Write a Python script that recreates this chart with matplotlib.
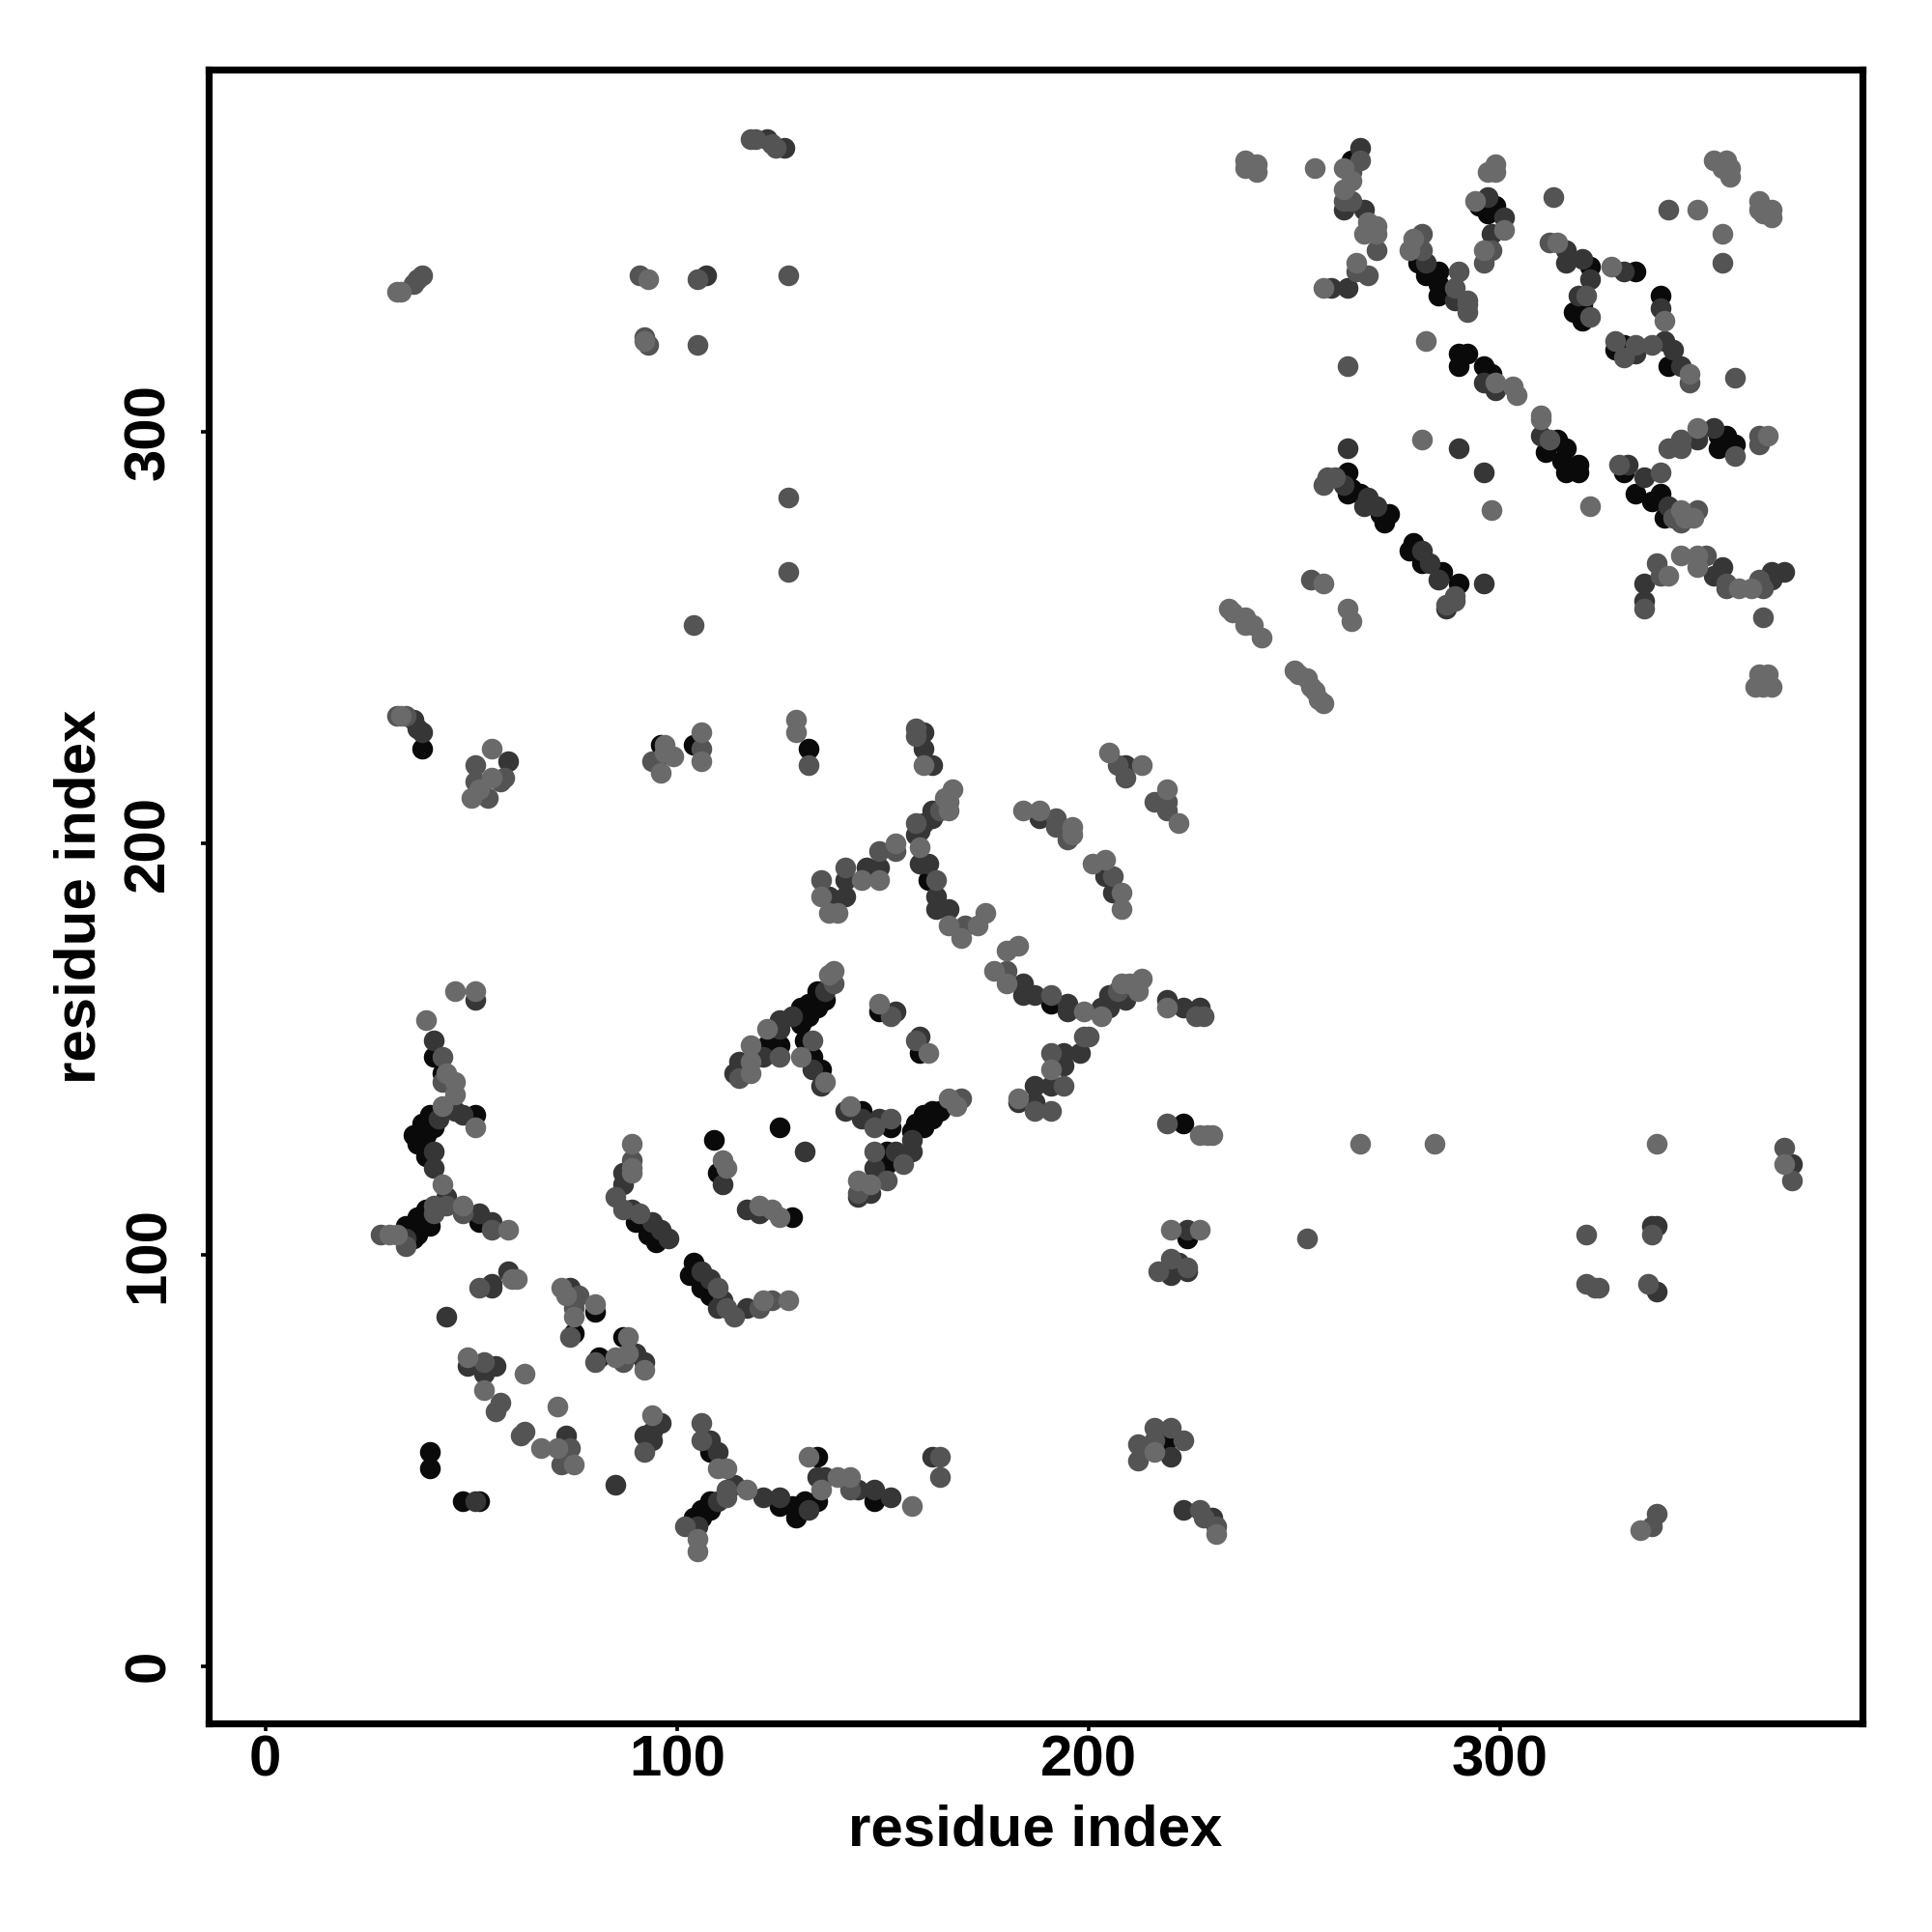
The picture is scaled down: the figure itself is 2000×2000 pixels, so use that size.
#!/usr/bin/env python3
"""Residue contact map, points grouped by grey level."""
import matplotlib
matplotlib.use("Agg")
import matplotlib.pyplot as plt

plt.rcParams["font.family"] = ["Liberation Sans", "DejaVu Sans"]

# (residue i, residue j), one list per grey level
black_pts = [
    (264, 366), (280, 341), (285, 339), (282, 338), (285, 336), (285, 333),
    (295, 355), (299, 355), (297, 353), (322, 340), (318, 329), (320, 327), (320, 331),
    (333, 339), (339, 333), (328, 320), (330, 321), (341, 316),
    (290, 319), (292, 319), (290, 316), (296, 316), (298, 314),
    (314, 298), (311, 295), (316, 296), (315, 293), (319, 292), (316, 290), (319, 290),
    (330, 290), (333, 285), (339, 285), (337, 283), (340, 279),
    (353, 299), (355, 299), (357, 297), (353, 296),
    (263, 290), (264, 286), (266, 285), (263, 285), (271, 280), (273, 280), (272, 278),
    (279, 273), (278, 271), (281, 268), (286, 266), (290, 263),
    (96, 224), (104, 224), (132, 223), (161, 191), (191, 161),
    (134, 164), (136, 162), (132, 161), (134, 160), (130, 160), (132, 158), (130, 156),
    (122, 151), (125, 151), (131, 152), (133, 148), (135, 145), (149, 159), (159, 149),
    (145, 135), (152, 131), (162, 135), (164, 135), (160, 134), (162, 133), (158, 132),
    (160, 131), (157, 130), (151, 125), (151, 122),
    (223, 132), (224, 104), (125, 131), (109, 128), (110, 120), (128, 109),
    (90, 108), (93, 105), (95, 103),
    (104, 98), (103, 95), (106, 92), (108, 90),
    (41, 148), (43, 144), (51, 134), (40, 134), (38, 132), (41, 131), (36, 129), (39, 129),
    (37, 127), (39, 124), (39, 111), (37, 109), (40, 107), (34, 107), (37, 105), (36, 104),
    (52, 108), (80, 86), (75, 81), (81, 75), (87, 80), (40, 52), (40, 48), (48, 40), (52, 40),
    (108, 52), (108, 40), (106, 38), (108, 38), (104, 36), (106, 36),
    (125, 39), (128, 39), (129, 36), (131, 40), (134, 40), (134, 51), (148, 40),
    (219, 55), (38, 223),
]
dark_pts = [
    (266, 369), (267, 354), (262, 354), (259, 335), (263, 335),
    (282, 341), (289, 332), (297, 357), (301, 352), (298, 348),
    (316, 344), (316, 341), (320, 342), (322, 337), (319, 333),
    (330, 339), (339, 330), (333, 319), (340, 322), (342, 320), (344, 316),
    (296, 312), (299, 310), (310, 299), (331, 292), (335, 289), (341, 282),
    (348, 298), (352, 301), (263, 296), (290, 296), (296, 290), (296, 263),
    (262, 287), (268, 284), (267, 282), (270, 282),
    (281, 271), (283, 268), (285, 264), (287, 257),
    (335, 263), (335, 259), (354, 267), (352, 265), (366, 266), (369, 266), (366, 264),
    (95, 220), (160, 227), (160, 223), (162, 219),
    (209, 219), (188, 206), (204, 192), (206, 188),
    (162, 208), (162, 206), (160, 205), (159, 203), (158, 202),
    (159, 195), (161, 195), (163, 187), (163, 184), (166, 184),
    (149, 194), (146, 194), (141, 191), (141, 187), (137, 187),
    (184, 166), (184, 163), (187, 163), (195, 161), (195, 159),
    (205, 161), (205, 163), (203, 160), (205, 160), (207, 163), (209, 162),
    (219, 162), (223, 160), (227, 160),
    (198, 149), (194, 149), (194, 146), (191, 141), (187, 141), (187, 137), (183, 137),
    (224, 106), (128, 158), (125, 157), (125, 155), (121, 148), (115, 147), (114, 144),
    (136, 164), (133, 145), (135, 141), (153, 159), (159, 153),
    (141, 135), (145, 133), (149, 133), (157, 128), (157, 125), (153, 125), (148, 121),
    (147, 115), (144, 114), (131, 125), (111, 117), (117, 111), (120, 110),
    (87, 120), (87, 117), (89, 111), (94, 108), (96, 106), (98, 104),
    (106, 96), (108, 94), (111, 89), (110, 87), (117, 87),
    (41, 152), (46, 135), (48, 134), (42, 133), (41, 125), (41, 121), (44, 114),
    (34, 104), (52, 110), (55, 108), (55, 93), (55, 92), (59, 96), (44, 85),
    (74, 92), (90, 76), (92, 74), (49, 73), (56, 73), (53, 71), (73, 56),
    (96, 59), (94, 57), (92, 56), (94, 55), (51, 40), (85, 44),
    (108, 55), (110, 52), (114, 44), (110, 40), (105, 34),
    (121, 41), (125, 41), (132, 38), (134, 46), (136, 46), (144, 43), (148, 43), (152, 41),
    (162, 51), (220, 51), (223, 38), (230, 36),
    (338, 91), (337, 107), (338, 107), (220, 95), (222, 98), (224, 96), (371, 122),
    (36, 230), (37, 228), (59, 220), (38, 227),
    (122, 371), (126, 369), (107, 338), (51, 162),
]
mid_pts = [
    (266, 366), (262, 356), (264, 356), (264, 363), (270, 344), (265, 339), (268, 338),
    (281, 348), (281, 344), (289, 335), (292, 332), (292, 329), (290, 339), (292, 331),
    (298, 344), (296, 341), (313, 357), (312, 346), (321, 333), (322, 328),
    (341, 354), (354, 341), (328, 322), (330, 318), (333, 321), (337, 321), (346, 312),
    (357, 313), (263, 316), (312, 298), (339, 290), (329, 292), (342, 279), (348, 281),
    (344, 278), (341, 296), (344, 298), (344, 296), (357, 294),
    (363, 299), (363, 297), (258, 289), (257, 287), (260, 289),
    (289, 260), (287, 258), (289, 259), (254, 264), (338, 268), (339, 265), (335, 257),
    (350, 270), (355, 263), (364, 262), (363, 264), (355, 262), (364, 255),
    (94, 220), (106, 223), (132, 219), (158, 228), (158, 226),
    (207, 219), (209, 216), (216, 210), (219, 208), (219, 210),
    (192, 206), (192, 204), (195, 201), (206, 192),
    (164, 208), (158, 205), (163, 191), (170, 180),
    (153, 198), (149, 198), (141, 194), (135, 191),
    (180, 169), (191, 163), (207, 164),
    (228, 158), (226, 158), (199, 153), (200, 153), (191, 149), (194, 141), (187, 135), (191, 135),
    (125, 148), (115, 143), (133, 152), (152, 158), (158, 152),
    (152, 133), (148, 131), (155, 122), (148, 125), (151, 118), (144, 115),
    (219, 132), (138, 166), (169, 138),
    (89, 123), (85, 114), (87, 111), (91, 110),
    (110, 92), (112, 87), (114, 85), (120, 87), (123, 89),
    (43, 148), (43, 142), (41, 112), (44, 112), (41, 110), (34, 102), (28, 105),
    (48, 110), (55, 106), (52, 92), (76, 90), (75, 87), (74, 80), (80, 74), (87, 74),
    (53, 74), (57, 64), (56, 62), (63, 57), (62, 56), (74, 53), (72, 49), (92, 52),
    (106, 59), (106, 55), (112, 43), (112, 41), (102, 34), (142, 43), (164, 51), (164, 46),
    (212, 54), (212, 50), (216, 58), (220, 58), (216, 55), (223, 55),
    (227, 38), (228, 36), (231, 34), (337, 34), (338, 37),
    (336, 93), (321, 105), (321, 93), (324, 92), (323, 92), (337, 105), (253, 104),
    (217, 96), (220, 99), (224, 97), (369, 126), (371, 118),
    (32, 231), (34, 231), (51, 219), (51, 215), (58, 216), (54, 211), (57, 215),
    (36, 336), (37, 337), (38, 338), (118, 371), (119, 371), (123, 370), (124, 369),
    (91, 338), (105, 337), (127, 338), (92, 323), (93, 321), (105, 321),
    (127, 284), (127, 266), (104, 253),
]
light_pts = [
    (238, 366), (238, 364), (241, 365), (241, 363), (239, 365), (255, 364),
    (262, 364), (262, 359), (264, 361), (268, 351), (270, 350), (267, 348), (270, 348),
    (265, 341), (257, 335), (279, 347), (278, 344), (282, 322),
    (299, 365), (297, 363), (299, 363), (294, 356), (301, 349), (296, 344),
    (314, 346), (327, 340), (340, 327), (348, 354), (354, 348),
    (352, 366), (355, 366), (354, 364), (356, 364), (356, 362),
    (363, 356), (366, 354), (363, 354), (364, 353), (366, 352),
    (346, 314), (299, 312), (303, 311), (304, 309), (310, 304), (310, 303),
    (344, 281), (345, 279), (347, 279), (348, 301), (365, 299), (281, 298),
    (298, 281), (322, 282), (257, 263), (263, 257), (264, 254),
    (234, 257), (235, 256), (238, 255), (240, 253), (238, 253), (242, 250),
    (341, 265), (344, 270), (348, 270), (348, 267), (358, 262), (361, 262),
    (363, 241), (365, 241), (362, 238), (364, 238), (366, 238),
    (250, 242), (251, 241), (253, 240), (254, 238), (255, 237), (256, 235), (257, 234),
    (97, 224), (99, 221), (97, 222), (96, 217), (106, 227), (106, 220),
    (129, 230), (129, 227), (160, 219),
    (205, 222), (213, 219), (219, 213), (222, 205),
    (184, 208), (188, 208), (196, 204), (196, 202), (201, 195), (204, 196), (208, 188), (208, 184),
    (167, 213), (165, 211), (166, 210), (166, 208), (159, 199),
    (166, 180), (173, 180), (175, 183), (169, 177),
    (153, 200), (145, 191), (149, 191), (135, 187), (137, 183), (139, 183),
    (183, 175), (180, 174), (177, 169), (180, 166), (199, 159), (203, 158),
    (208, 166), (210, 166), (213, 167), (212, 164),
    (219, 160), (191, 145), (183, 138),
    (227, 129), (230, 129), (229, 129), (220, 106), (227, 106),
    (138, 169), (137, 168), (122, 155), (118, 151), (118, 147), (118, 144),
    (130, 148), (136, 142), (149, 161), (161, 149),
    (142, 136), (166, 138), (168, 136), (147, 117), (144, 118),
    (89, 127), (89, 121), (111, 123), (112, 121), (120, 112), (123, 111), (125, 109),
    (89, 120), (121, 89), (127, 89),
    (39, 157), (44, 144), (46, 142), (46, 139), (43, 136), (51, 131), (43, 117),
    (30, 105), (32, 105), (48, 112), (59, 106), (60, 94), (61, 94),
    (72, 92), (73, 90), (80, 88), (75, 85), (88, 80), (85, 75), (88, 76), (92, 72),
    (49, 75), (63, 71), (53, 67), (71, 63), (67, 53), (71, 53), (75, 49),
    (94, 61), (110, 48), (112, 48), (117, 43), (105, 31), (105, 28),
    (135, 43), (132, 51), (139, 46), (142, 46), (157, 39),
    (216, 52), (231, 32), (334, 33),
    (266, 127), (284, 127), (338, 127), (369, 122),
    (33, 231), (55, 223), (55, 216), (50, 211), (52, 213),
    (46, 164), (51, 164),
    (32, 334), (33, 334), (93, 337), (92, 322),
]
grey_levels = ["#0a0a0a", "#363636", "#545454", "#6a6a6a"]
tick_values = [0, 100, 200, 300]

fig = plt.figure(figsize=(10, 10), dpi=200)
ax = fig.add_axes([0.108, 0.108, 0.8558, 0.856])

# lightest group goes on top: those points sit on the ends of the dark ridges
for pts, grey in zip([black_pts, dark_pts, mid_pts, light_pts], grey_levels):
    xs, ys = zip(*pts)
    ax.scatter(xs, ys, s=60, color=grey, linewidths=0)

ax.set_xlim(-13.8, 388)
ax.set_ylim(-13.9, 388)
ax.set_xticks(tick_values)
ax.set_yticks(tick_values)
ax.tick_params(axis="x", length=3, width=1.3, pad=1, labelsize=21.6)
ax.tick_params(axis="y", length=3, width=1.3, pad=9.3, labelsize=21.6)
for lab in ax.get_xticklabels():
    lab.set_fontweight("bold")
for lab in ax.get_yticklabels():
    lab.set_fontweight("bold")
    lab.set_rotation(90)
    lab.set_va("center")
for spine in ax.spines.values():
    spine.set_linewidth(2.6)

ax.set_xlabel("residue index", fontsize=21.6, fontweight="bold")
ax.set_ylabel("residue index", fontsize=21.6, fontweight="bold")
ax.xaxis.set_label_coords(0.5, -0.0486)
ax.yaxis.set_label_coords(-0.0616, 0.5)

fig.savefig("out.png", dpi=200)
